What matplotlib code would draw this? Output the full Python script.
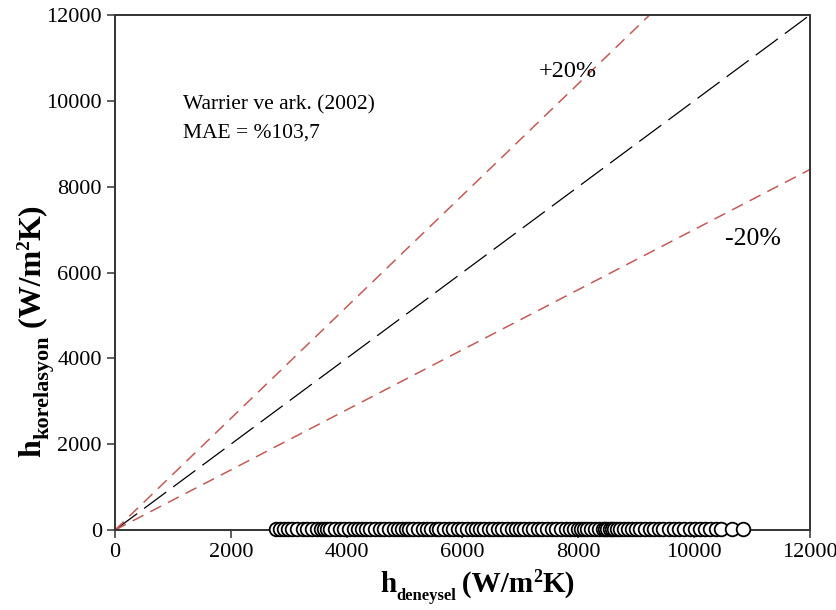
import matplotlib
matplotlib.use("Agg")
import matplotlib.pyplot as plt
from matplotlib.transforms import IdentityTransform

plt.rcParams['font.family'] = ['Liberation Serif', 'DejaVu Serif']

# Data
h_deneysel = [2780, 2850, 2920, 2990, 3060, 3150, 3240, 3320, 3400, 3480, 3560, 3610,
              3660, 3720, 3800, 3880, 3960, 4040, 4120, 4200, 4260, 4330, 4410, 4490,
              4570, 4650, 4730, 4810, 4890, 4960, 5030, 5080, 5150, 5230, 5310, 5390,
              5460, 5540, 5600, 5680, 5760, 5840, 5920, 6000, 6080, 6160, 6240, 6310,
              6380, 6450, 6530, 6610, 6690, 6770, 6850, 6920, 6990, 7060, 7140, 7220,
              7300, 7380, 7460, 7540, 7620, 7700, 7780, 7850, 7930, 8000, 8040, 8090,
              8150, 8220, 8290, 8360, 8420, 8460, 8500, 8540, 8580, 8620, 8660, 8720,
              8790, 8860, 8930, 9000, 9070, 9150, 9230, 9310, 9390, 9470, 9560, 9650,
              9740, 9830, 9920, 10010, 10100, 10190, 10280, 10370, 10460, 10650, 10850]
h_korelasyon = [20] * len(h_deneysel)

ref_x = [0, 12000]
ref_y = [0, 12000]
upper_factor = 1.3
lower_factor = 0.7

fig = plt.figure(figsize=(8.37, 6.10), dpi=100)
ax = fig.add_axes([0.1374, 0.1311, 0.9677 - 0.1374, 0.9754 - 0.1311])

red = '#c55a55'
ax.plot(ref_x, ref_y, color='black', lw=0.9, dashes=(22, 7))
ax.plot(ref_x, [v * upper_factor for v in ref_x], color=red, lw=1.1, dashes=(8, 5))
ax.plot(ref_x, [v * lower_factor for v in ref_x], color=red, lw=1.1, dashes=(8, 5))
ax.plot(h_deneysel, h_korelasyon, 'o', ms=9.8, mfc='white', mec='black', mew=1.3,
        clip_on=False, zorder=5)

ax.set_xlim(0, 12000)
ax.set_ylim(0, 12000)
ax.set_xticks([0, 2000, 4000, 6000, 8000, 10000, 12000])
ax.set_yticks([0, 2000, 4000, 6000, 8000, 10000, 12000])
ax.tick_params(direction='out', length=6, width=1.1, labelsize=16, top=False, right=False,
               colors='#333333', labelcolor='black')
for s in ax.spines.values():
    s.set_linewidth(1.4)
    s.set_color('#333333')

ax.text(1174, 9800, 'Warrier ve ark. (2002)', fontsize=15.5)
ax.text(1174, 9150, 'MAE = %103,7', fontsize=15.5)
ax.text(7320, 10550, '+20%', fontsize=17.5)
ax.text(10540, 6640, '-20%', fontsize=18.5)

# Axis titles built from pieces (main text, subscript, superscript)
fig.canvas.draw()
renderer = fig.canvas.get_renderer()

def chain(pieces, x0, y0, vertical=False):
    pos = x0 if not vertical else y0
    for s, size, shift in pieces:
        if not vertical:
            t = fig.text(pos, y0 - shift, s, fontsize=size, fontweight='bold',
                         transform=IdentityTransform(), ha='left', va='baseline')
            bb = t.get_window_extent(renderer)
            pos = bb.x1
        else:
            t = fig.text(x0 + shift, pos, s, fontsize=size, fontweight='bold',
                         transform=IdentityTransform(), ha='left', va='baseline',
                         rotation=90, rotation_mode='anchor')
            bb = t.get_window_extent(renderer)
            pos = bb.y1

xlab = [('h', 21, 0), ('deneysel', 12, 8), ('\u2009(W/m', 21, 0), ('2', 13, -10), ('K)', 21, 0)]
ylab = [('h', 23, 0), ('korelasyon', 16, 8), (' (W/m', 23, 0), ('2', 14, -11), ('K)', 23, 0)]
chain(xlab, 380, 610 - 592)
chain(ylab, 40, 610 - 457, vertical=True)

fig.savefig('out.png', dpi=100)
